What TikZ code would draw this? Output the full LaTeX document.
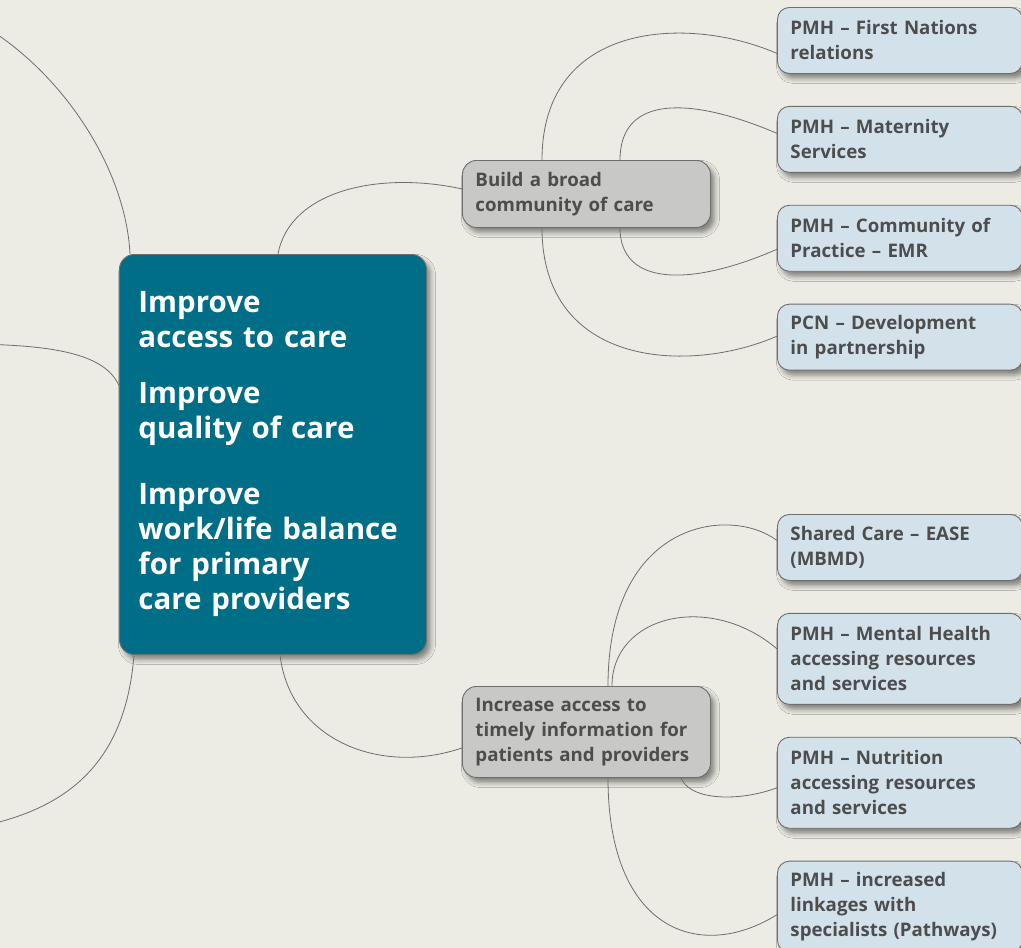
\documentclass[tikz,border=0pt]{standalone}
\usepackage{fontspec}
\setmainfont{Open Sans}
\usepackage{xcolor}
\usetikzlibrary{positioning,shadows.blur}

\definecolor{canvas}{HTML}{ECECE4}
\definecolor{goalblue}{HTML}{006E87}
\definecolor{aimgray}{HTML}{C8C8C7}
\definecolor{leafblue}{HTML}{D3E2EA}
\definecolor{inkgray}{HTML}{4D4D4D}
\definecolor{edgegray}{HTML}{6E6E6E}

\begin{document}
\begin{tikzpicture}[
        x=1pt,y=-1pt,
        box/.style={draw=edgegray,line width=0.9pt,anchor=north west,align=left,text=inkgray,inner ysep=5pt,font=\fontsize{18.7}{25}\selectfont\bfseries,blur shadow={shadow xshift=4pt,shadow yshift=-5pt,shadow blur radius=5pt,shadow opacity=45}},
        goal/.style={box,fill=goalblue,rounded corners=15pt,text=white,font=\fontsize{29.5}{35}\selectfont\bfseries,text width=269pt,inner xsep=19pt,minimum height=400pt},
        aim/.style={box,fill=aimgray,rounded corners=14pt,text width=222pt,inner xsep=13pt,minimum height=67pt},
        leaf/.style={box,fill=leafblue,rounded corners=12pt,text width=219pt,inner xsep=13pt,minimum height=66pt},
        tall/.style={minimum height=91pt},
        link/.style={draw=edgegray,line width=0.8pt},
        ]
      \useasboundingbox (0,0) rectangle (1021,948);
      \clip (0,0) rectangle (1021,948);
      \fill [canvas] (0,0) rectangle (1021,948);

      \node [goal] (improve) at (119,254) {Improve\\access to care\\[21pt]Improve\\quality of care\\[31pt]Improve\\work/life balance\\for primary\\care providers};
      \node [aim] (community) at (462,160) {Build a broad\\community of care};
      \node [aim, tall] (access) at (462,686) {Increase access to\\timely information for\\patients and providers};

      \node [leaf] (first-nations) at (777,7) {PMH – First Nations\\relations};
      \node [leaf, below=32pt of first-nations] (maternity) {PMH – Maternity\\Services};
      \node [leaf, below=32pt of maternity] (practice) {PMH – Community of\\Practice – EMR};
      \node [leaf, below=32pt of practice] (pcn) {PCN – Development\\in partnership};
      \node [leaf] (shared-care) at (777,514) {Shared Care – EASE\\(MBMD)};
      \node [leaf, tall, below=32pt of shared-care] (mental-health) {PMH – Mental Health\\accessing resources\\and services};
      \node [leaf, tall, below=32pt of mental-health] (nutrition) {PMH – Nutrition\\accessing resources\\and services};
      \node [leaf, tall, below=32pt of nutrition] (pathways) {PMH – increased\\linkages with\\specialists (Pathways)};

      \coordinate (left-up) at (-60,5);
      \coordinate (left-mid) at (-40,344);
      \coordinate (left-down) at (-40,830);

      \draw [link] ([xshift=11pt]improve.north west) .. controls +(-5,-100) and +(100,35) .. (left-up);
      \draw [link] ([yshift=69pt]improve.west) .. controls +(-14,-30) and +(100,0) .. (left-mid);
      \draw [link] ([xshift=15pt]improve.south west) .. controls +(-9,115) and +(100,-15) .. (left-down);
      \draw [link] ([xshift=159pt]improve.north west) .. controls +(12,-64) and +(-82,-18) .. ([yshift=5pt]community.west);
      \draw [link] ([xshift=161pt]improve.south west) .. controls +(10,85) and +(-82,28) .. ([yshift=-16pt]access.west);

      \draw [link] ([xshift=80pt]community.north west) .. controls +(0,-140) and +(-87,-38) .. ([yshift=-13pt]first-nations.west);
      \draw [link] ([xshift=158pt]community.north west) .. controls +(0,-65) and +(-87,-37) .. ([yshift=6pt]maternity.west);
      \draw [link] ([xshift=158pt]community.south west) .. controls +(0,58) and +(-87,38) .. ([yshift=-11pt]practice.west);
      \draw [link] ([xshift=80pt]community.south west) .. controls +(0,140) and +(-87,38) .. ([yshift=1pt]pcn.west);

      \draw [link] ([xshift=146pt]access.north west) .. controls +(0,-166) and +(-47,-35) .. ([yshift=7pt]shared-care.west);
      \draw [link] ([xshift=150pt]access.north west) .. controls +(0,-71) and +(-67,-57) .. ([yshift=10pt]mental-health.west);
      \draw [link] ([xshift=219pt]access.south west) .. controls +(9,23) and +(-37,14) .. ([yshift=-5pt]nutrition.west);
      \draw [link] ([xshift=146pt]access.south west) .. controls +(0,153) and +(-77,48) .. ([yshift=-8pt]pathways.west);
    \end{tikzpicture}
\end{document}
